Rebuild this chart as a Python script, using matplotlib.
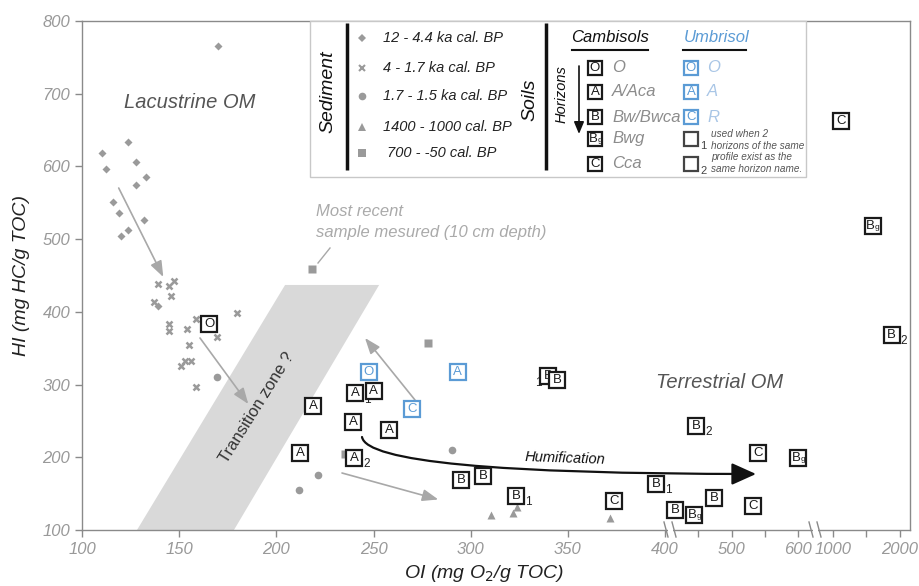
import numpy as np
import matplotlib
matplotlib.use("Agg")
import matplotlib.pyplot as plt
from matplotlib.patches import Polygon, Rectangle, FancyArrowPatch

plt.rcParams['font.family'] = ['Liberation Sans', 'DejaVu Sans']

# ---- sediment samples (OI, HI) by age class
sed1_oi = [170.0, 110.1, 123.9, 127.9, 112.1, 133.0, 127.9, 116.1, 119.0, 132.0, 123.9, 120.0, 139.0]
sed1_hi = [766, 619, 634, 606, 596, 585, 574, 551, 536, 526, 512, 505, 408]
sed2_oi = [139.0, 144.9, 147.1, 146.0, 136.8, 179.8, 158.8, 144.9, 144.9, 153.9, 169.7, 154.9,
           152.8, 155.9, 150.8, 158.9]
sed2_hi = [438, 436, 442, 422, 414, 399, 390, 383, 374, 376, 365, 355, 333, 333, 325, 296]
sed3_oi = [169.6, 221.5, 211.7, 290.3]
sed3_hi = [310, 175, 155, 210]
sed4_oi = [310.3, 321.6, 323.6, 371.5]
sed4_hi = [121, 124, 132, 116]
sed5_oi = [218.5, 278.2, 237.9, 235.2, 213.9]
sed5_hi = [459, 357, 295, 204, 210]

sed_labels = ["12 - 4.4 ka cal. BP", "4 - 1.7 ka cal. BP", "1.7 - 1.5 ka cal. BP",
              "1400 - 1000 cal. BP", " 700 - -50 cal. BP"]

# ---- soil horizons
camb_hor = ['O', 'A', 'A', 'A', 'A', 'A', 'A', 'A', 'B', 'B', 'B', 'B', 'B', 'C', 'B', 'B', 'Bg',
            'B', 'B', 'C', 'C', 'Bg', 'C', 'Bg', 'B']
camb_oi = [165.4, 219.0, 240.5, 250.1, 239.6, 258.0, 212.2, 240.0, 295.1, 306.4, 323.4, 339.8,
           344.5, 374.0, 395.4, 415.0, 444.1, 446.6, 474.1, 531.8, 540.3, 600.5, 1115, 1592, 1876]
camb_hi = [383, 270, 288, 291, 248, 237, 206, 199, 169, 174, 147, 312, 306, 140, 163, 128, 121,
           243, 144, 133, 206, 199, 663, 518, 368]
camb_sub = ['', '', '1', '', '', '', '', '2', '', '', '1', '', '', '', '1', '2', '', '2', '', '',
            '', '', '', '', '2']

umb_hor = ['O', 'C', 'A']
umb_oi = [247.5, 269.8, 293.4]
umb_hi = [317, 267, 317]

xticks = [100, 150, 200, 250, 300, 350, 400, 500, 600, 1000, 2000]
xminor = [450, 550, 1500]
yticks = [100, 200, 300, 400, 500, 600, 700, 800]

GRAY = '#9a9a9a'
BLUE = '#5b9bd5'

W, H = 919, 586
L, R, T, B = 82, 910, 21, 530


def px(x, y):
    return ((x - L) / (R - L), (B - y) / (B - T))


# broken x axis: piecewise linear
kx = [100, 400, 600, 1000, 2150]
ku = [0, 583, 716, 751, 828]


def fwd(x):
    return np.interp(x, kx, ku)


def inv(u):
    return np.interp(u, ku, kx)


fig = plt.figure(figsize=(W / 100, H / 100), dpi=100)
ax = fig.add_axes([L / W, 1 - B / H, (R - L) / W, (B - T) / H])
ax.set_xscale('function', functions=(fwd, inv))
ax.set_xlim(100, 2150)
ax.set_ylim(100, 800)

for s in ax.spines.values():
    s.set_color('#8a8a8a')
    s.set_linewidth(1.0)
ax.set_xticks(xticks)
ax.set_xticklabels([str(v) for v in xticks])
ax.set_xticks(xminor, minor=True)
ax.set_yticks(yticks)
ax.set_yticklabels([str(v) for v in yticks])
ax.tick_params(colors='#8a8a8a', length=5, width=1, labelsize=12, labelcolor='#999999')
ax.tick_params(which='minor', colors='#8a8a8a', length=5, width=1)
for lab in ax.get_xticklabels() + ax.get_yticklabels():
    lab.set_fontstyle('italic')
ax.tick_params(axis='x', pad=4)

# transition zone
ax.add_patch(Polygon([(128.3, 100), (178.2, 100), (252.9, 437), (204.5, 437)],
                     closed=True, facecolor='#d9d9d9', edgecolor='none', zorder=0))
ax.text(*px(257, 408), "Transition zone ?", transform=ax.transAxes, rotation=58,
        ha='center', va='center', fontsize=12, color='#333333', zorder=1)

# sediment markers
ax.plot(sed1_oi, sed1_hi, 'D', color=GRAY, ms=4, mec='none', zorder=2)
ax.plot(sed2_oi, sed2_hi, 'x', color=GRAY, ms=5, mew=1.8, zorder=2)
ax.plot(sed3_oi, sed3_hi, 'o', color=GRAY, ms=5.5, mec='none', zorder=2)
ax.plot(sed4_oi, sed4_hi, '^', color=GRAY, ms=6, mec='none', zorder=2)
ax.plot(sed5_oi, sed5_hi, 's', color=GRAY, ms=6, mec='none', zorder=2)


def box(x, y, lab, col, sub='', tr=None, z=4, ms=11.5):
    tr = tr if tr is not None else ax.transData
    ax.plot([x], [y], 's', ms=ms, mfc='white', mec=col, mew=1.6, transform=tr, zorder=z,
            clip_on=False)
    if lab == 'Bg':
        ax.annotate('B', (x, y), xycoords=tr, xytext=(-1.5, 0), textcoords='offset points',
                    ha='center', va='center', fontsize=9.5, color=col, zorder=z + 0.001)
        ax.annotate('g', (x, y), xycoords=tr, xytext=(3.5, -1.2), textcoords='offset points',
                    ha='center', va='center', fontsize=6, color=col, zorder=z + 0.001)
    elif lab:
        ax.annotate(lab, (x, y), xycoords=tr, ha='center', va='center', fontsize=9.5,
                    color=col, zorder=z + 0.001)
    if sub:
        ax.annotate(sub, (x, y), xycoords=tr, xytext=(6.5, -4.5), textcoords='offset points',
                    ha='left', va='center', fontsize=8.5, color='#222222', zorder=z + 0.001)


for i in range(len(camb_hor)):
    box(camb_oi[i], camb_hi[i], camb_hor[i], '#1a1a1a', camb_sub[i], z=4 + i * 0.01)
ax.text(*px(538, 383), '1', transform=ax.transAxes, fontsize=8.5, color='#222222',
        ha='center', va='center', zorder=3.9)
for i in range(len(umb_hor)):
    box(umb_oi[i], umb_hi[i], umb_hor[i], BLUE, z=4)


def arrow(p0, p1, col, lw=1.2, hl=0.8, hw=0.3, ms=12, cs='arc3', z=3):
    a = FancyArrowPatch(px(*p0), px(*p1), transform=ax.transAxes,
                        arrowstyle='-|>,head_length=%s,head_width=%s' % (hl, hw),
                        mutation_scale=ms, color=col, lw=lw, connectionstyle=cs, zorder=z,
                        shrinkA=0, shrinkB=0)
    ax.add_patch(a)


AG = '#a8a8a8'
arrow((118.7, 188), (163.3, 277), AG)
arrow((200, 338), (248.3, 404), AG)
arrow((342, 473), (438.3, 499.5), AG)
arrow((415, 400), (365, 338), AG)
ax.plot(*zip(px(318, 263), px(330, 248)), color=AG, lw=1, transform=ax.transAxes, zorder=3)

# humification
arrow((362, 437), (756, 474), '#111111', lw=1.6, hl=1.0, hw=0.45, ms=15,
      cs='angle3,angleA=-80,angleB=0', z=3.5)
ax.text(*px(565, 458), "Humification", transform=ax.transAxes, rotation=-2, ha='center',
        va='center', fontsize=10.5, style='italic', color='#111111')

ax.text(*px(190, 102), "Lacustrine OM", transform=ax.transAxes, ha='center', va='center',
        fontsize=14.5, style='italic', color='#555555')
ax.text(*px(720, 383), "Terrestrial OM", transform=ax.transAxes, ha='center', va='center',
        fontsize=14.5, style='italic', color='#555555')
ax.text(*px(316, 212), "Most recent", transform=ax.transAxes, ha='left', va='center',
        fontsize=12, style='italic', color='#aaaaaa')
ax.text(*px(316, 233), "sample mesured (10 cm depth)", transform=ax.transAxes, ha='left',
        va='center', fontsize=12, style='italic', color='#aaaaaa')

# ---- legend box
x0, y0 = px(310, 177)
x1, y1 = px(806, 21)
ax.add_patch(Rectangle((x0, y0), x1 - x0, y1 - y0, transform=ax.transAxes, facecolor='white',
                       edgecolor='#c8c8c8', lw=1, zorder=5, clip_on=False))
ax.text(*px(328, 92), "Sediment", transform=ax.transAxes, rotation=90, ha='center',
        va='center', fontsize=14, style='italic', color='#111111', zorder=6)
ax.text(*px(530, 100), "Soils", transform=ax.transAxes, rotation=90, ha='center',
        va='center', fontsize=14, style='italic', color='#111111', zorder=6)
for xx in (347, 546):
    ax.plot(*zip(px(xx, 23), px(xx, 170)), color='#111111', lw=2.5, transform=ax.transAxes,
            zorder=6, solid_capstyle='butt')
rows = [38, 68, 96, 127, 153]
mk = [('D', 4), ('x', 5), ('o', 5.5), ('^', 6), ('s', 6)]
for r, (m, s), lab in zip(rows, mk, sed_labels):
    ax.plot(*px(362, r), m, color=GRAY, ms=s, mew=1.5 if m == 'x' else 0,
            transform=ax.transAxes, zorder=6, clip_on=False)
    ax.text(*px(383, r), lab, transform=ax.transAxes, ha='left', va='center', fontsize=10.5,
            style='italic', color='#222222', zorder=6)

ax.text(*px(610, 37), "Cambisols", transform=ax.transAxes, ha='center', va='center',
        fontsize=12, style='italic', color='#111111', zorder=6)
ax.plot(*zip(px(572, 50), px(648, 50)), color='#111111', lw=1.5, transform=ax.transAxes,
        zorder=6)
ax.text(*px(717, 37), "Umbrisol", transform=ax.transAxes, ha='center', va='center',
        fontsize=12, style='italic', color=BLUE, zorder=6)
ax.plot(*zip(px(683, 50), px(746, 50)), color='#111111', lw=1.5, transform=ax.transAxes,
        zorder=6)
ax.text(*px(562, 94), "Horizons", transform=ax.transAxes, rotation=90, ha='center',
        va='center', fontsize=10.5, style='italic', color='#111111', zorder=6)
ax.add_patch(FancyArrowPatch(px(579, 66), px(579, 134), transform=ax.transAxes,
                             arrowstyle='-|>,head_length=0.6,head_width=0.25', mutation_scale=12,
                             color='#111111', lw=1.2, zorder=6, shrinkA=0, shrinkB=0))

crow = [68, 92, 117, 139, 164]
chor = ['O', 'A', 'B', 'Bg', 'C']
cname = ['O', 'A/Aca', 'Bw/Bwca', 'Bwg', 'Cca']
for r, h, n in zip(crow, chor, cname):
    box(*px(595, r), h, '#1a1a1a', tr=ax.transAxes, z=6, ms=10.5)
    ax.text(*px(612, r), n, transform=ax.transAxes, ha='left', va='center', fontsize=12,
            style='italic', color='#8c8c8c', zorder=6)
uhor = ['O', 'A', 'C']
uname = ['O', 'A', 'R']
for r, h, n in zip(crow[:3], uhor, uname):
    box(*px(691, r), h, BLUE, tr=ax.transAxes, z=6, ms=10.5)
    ax.text(*px(707, r), n, transform=ax.transAxes, ha='left', va='center', fontsize=12,
            style='italic', color='#a9c6e6', zorder=6)
for r, sb in zip(crow[3:], ['1', '2']):
    box(*px(691, r), '', '#444444', tr=ax.transAxes, z=6, ms=10.5)
    ax.text(*px(700, r + 7), sb, transform=ax.transAxes, ha='left', va='center', fontsize=8,
            color='#444444', zorder=6)
note = ["used when 2", "horizons of the same", "profile exist as the", "same horizon name."]
for r, t in zip([134, 146, 157, 169], note):
    ax.text(*px(711, r), t, transform=ax.transAxes, ha='left', va='center', fontsize=7.2,
            style='italic', color='#555555', zorder=6)

# axis breaks
for xa in (665, 810):
    gx0, _ = px(xa + 3, 530)
    gx1, _ = px(xa + 8, 530)
    ax.add_patch(Rectangle((gx0, -0.01), gx1 - gx0, 0.02, transform=ax.transAxes,
                           facecolor='white', edgecolor='none', zorder=7, clip_on=False))
    for d in (0, 8):
        ax.plot(*zip(px(xa - 1 + d, 522), px(xa + 3 + d, 537)), color='#8a8a8a', lw=1,
                transform=ax.transAxes, zorder=8, clip_on=False)

fig.text(22 / W, 1 - 275 / H, "HI (mg HC/g TOC)", rotation=90, ha='center', va='center',
         fontsize=14, style='italic', color='#222222')
fig.text(484 / W, 1 - 573 / H, "OI (mg O$_2$/g TOC)", ha='center', va='center',
         fontsize=14, style='italic', color='#222222')

fig.savefig('out.png', dpi=100)
